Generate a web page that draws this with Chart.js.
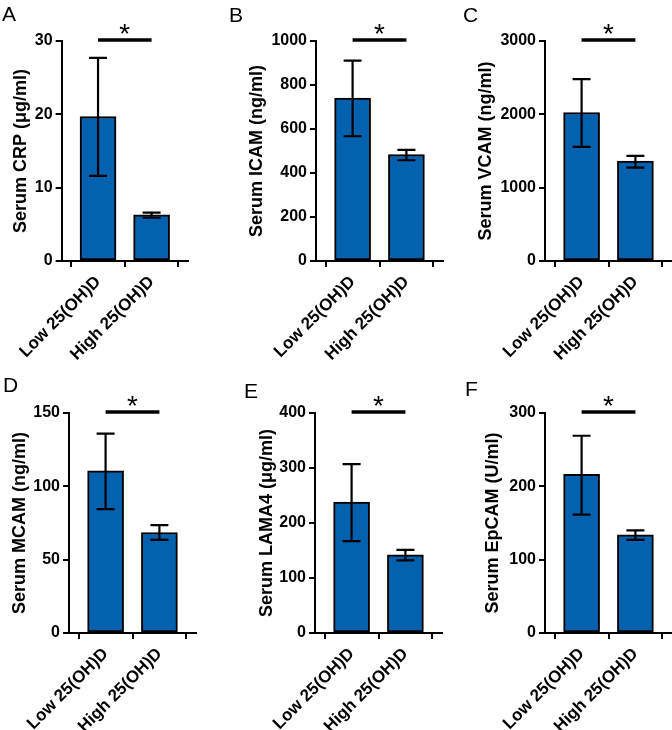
<!DOCTYPE html>
<html>
<head>
<meta charset="utf-8">
<script src="https://cdn.jsdelivr.net/npm/chart.js@4.4.1/dist/chart.umd.min.js"></script>
<style>
  html, body { margin: 0; padding: 0; background: #fff; }
  #wrap { position: relative; width: 672px; height: 730px; }
  #wrap canvas { position: absolute; }
</style>
</head>
<body>
<div id="wrap"></div>
<script>
// ---- data ----
const categories = ['Low 25(OH)D', 'High 25(OH)D'];
const panelLetters = ['A', 'B', 'C', 'D', 'E', 'F'];
const axisTitles = ['Serum CRP (μg/ml)', 'Serum ICAM (ng/ml)', 'Serum VCAM (ng/ml)',
                    'Serum MCAM (ng/ml)', 'Serum LAMA4 (μg/ml)', 'Serum EpCAM (U/ml)'];
const means   = [[19.7, 6.3], [741, 484], [2025, 1364], [110.5, 68.5], [238, 142], [216.5, 134]];
const errLow  = [[11.6, 5.9], [567, 458], [1556, 1273], [84.5, 63.5], [167, 132], [161.5, 127]];
const errHigh = [[27.7, 6.6], [911, 505], [2480, 1433], [136, 73.5], [307, 151], [269, 140]];
const yMax  = [30, 1000, 3000, 150, 400, 300];
const yStep = [10, 200, 1000, 50, 100, 100];
const significance = ['*', '*', '*', '*', '*', '*'];

// ---- layout / style (not data) ----
const PANEL_W = 224, PANEL_H = 365;
const axisX      = [61, 92, 97, 69, 91, 97];
const titleCenter = [20, 33, 38, 20, 43, 45];
const rowTop    = [41, 48];
const rowBottom = [261, 268];
const PLOT_W = 127;
const letterPos = [[2, 21], [5, 22], [15, 22], [3, 27], [20, 33], [17, 31]];
const FONT = "'Liberation Sans', Arial, Helvetica, sans-serif";
const BAR_COLOR = '#0461AE';
const TITLE_SIZE = 18;

const wrap = document.getElementById('wrap');

const annotPlugin = {
  id: 'annot',
  afterDatasetsDraw(chart, args, opts) {
    const i = opts.panel;
    const ctx = chart.ctx;
    const xs = chart.scales.x, ys = chart.scales.y;
    ctx.save();
    // error bars
    ctx.strokeStyle = '#000';
    ctx.lineWidth = 2.2;
    ctx.lineCap = 'butt';
    for (let j = 0; j < categories.length; j++) {
      const cx = xs.getPixelForValue(j + 1);
      const yl = ys.getPixelForValue(errLow[i][j]);
      const yh = ys.getPixelForValue(errHigh[i][j]);
      ctx.beginPath();
      ctx.moveTo(cx, yl); ctx.lineTo(cx, yh);
      ctx.moveTo(cx - 9, yl); ctx.lineTo(cx + 9, yl);
      ctx.moveTo(cx - 9, yh); ctx.lineTo(cx + 9, yh);
      ctx.stroke();
    }
    // significance line
    const x1 = xs.getPixelForValue(1), x2 = xs.getPixelForValue(2);
    const yTop = ys.getPixelForValue(yMax[i]) - 1;
    ctx.lineWidth = 3.5;
    ctx.beginPath();
    ctx.moveTo(x1, yTop); ctx.lineTo(x2, yTop);
    ctx.stroke();
    // asterisk
    const fs = 28;
    ctx.fillStyle = '#000';
    ctx.font = fs + 'px ' + FONT;
    ctx.textAlign = 'center';
    ctx.textBaseline = 'alphabetic';
    ctx.fillText(significance[i], (x1 + x2) / 2, yTop - 13 + 0.58 * fs);
    // panel letter
    ctx.font = '21px ' + FONT;
    ctx.textAlign = 'left';
    ctx.fillText(panelLetters[i], letterPos[i][0], letterPos[i][1]);
    ctx.restore();
  }
};

for (let i = 0; i < 6; i++) {
  const col = i % 3, row = Math.floor(i / 3);
  const cv = document.createElement('canvas');
  cv.width = PANEL_W; cv.height = PANEL_H;
  cv.style.left = (col * PANEL_W) + 'px';
  cv.style.top = (row * PANEL_H) + 'px';
  cv.style.width = PANEL_W + 'px';
  cv.style.height = PANEL_H + 'px';
  wrap.appendChild(cv);

  const top = rowTop[row], bottom = rowBottom[row];
  const right = Math.max(0, PANEL_W - (axisX[i] + PLOT_W));

  new Chart(cv, {
    type: 'bar',
    data: {
      datasets: [{
        data: means[i].map((m, j) => ({ x: j + 1, y: m })),
        backgroundColor: BAR_COLOR,
        borderColor: '#000',
        borderWidth: 2,
        borderSkipped: false,
        barThickness: 36
      }]
    },
    options: {
      responsive: false,
      animation: false,
      devicePixelRatio: 1,
      layout: { padding: { left: 0, top: top, right: right, bottom: 0 } },
      plugins: {
        legend: { display: false },
        tooltip: { enabled: false },
        annot: { panel: i }
      },
      scales: {
        x: {
          type: 'linear',
          min: 0.32, max: 2.68,
          offset: false,
          afterBuildTicks: s => { s.ticks = categories.map((c, j) => ({ value: j + 1 })); },
          afterFit: s => { s.height = PANEL_H - bottom; },
          grid: { display: true, drawOnChartArea: false, drawTicks: true, tickLength: 6, color: '#000', lineWidth: 2 },
          border: { display: true, color: '#000', width: 2 },
          ticks: {
            autoSkip: false,
            maxRotation: 45, minRotation: 45,
            padding: 5,
            color: '#000',
            font: { family: FONT, size: 17, weight: 'bold' },
            callback: (v, idx) => categories[idx]
          }
        },
        y: {
          min: 0, max: yMax[i],
          afterFit: s => { s.width = axisX[i]; },
          grid: { display: true, drawOnChartArea: false, drawTicks: true, tickLength: 6, color: '#000', lineWidth: 2 },
          border: { display: true, color: '#000', width: 2 },
          ticks: {
            stepSize: yStep[i],
            padding: 3,
            color: '#000',
            font: { family: FONT, size: 16, weight: 'bold' },
            callback: v => String(v)
          },
          title: {
            display: true,
            text: axisTitles[i],
            color: '#000',
            font: { family: FONT, size: TITLE_SIZE, weight: 'bold' },
            padding: { top: titleCenter[i] - TITLE_SIZE * 0.6, bottom: 0 }
          }
        }
      }
    },
    plugins: [annotPlugin]
  });
}
</script>
</body>
</html>
